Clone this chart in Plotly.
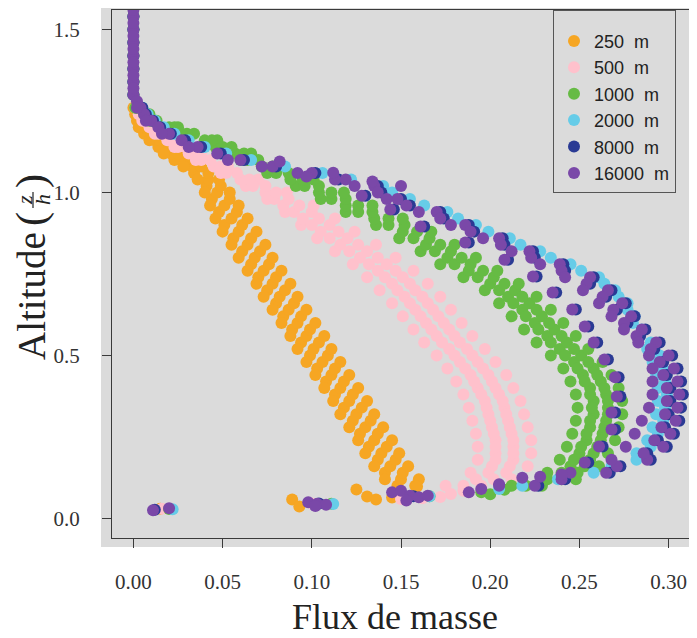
import plotly.graph_objects as go

# ---------------- data ----------------
# altitude levels (z/h) of the profile points
z_lev = [0.10, 0.14, 0.18, 0.22, 0.26, 0.30, 0.34, 0.38, 0.42, 0.46, 0.50, 0.54, 0.58,
         0.62, 0.66, 0.70, 0.74, 0.78, 0.82, 0.86, 0.90, 0.94, 0.98, 1.02, 1.06, 1.10,
         1.14, 1.18, 1.22, 1.26, 1.30, 1.34, 1.38, 1.42, 1.46, 1.50, 1.54, 1.58]
z_mid = [0.12, 0.16, 0.20, 0.24, 0.28, 0.32, 0.36, 0.40, 0.44, 0.48, 0.52, 0.56, 0.60,
         0.64, 0.68, 0.72, 0.76, 0.80, 0.84, 0.88, 0.92, 0.96, 1.00, 1.04, 1.08, 1.12,
         1.16, 1.20, 1.24, 1.28, 1.32, 1.36, 1.40, 1.44, 1.48, 1.52, 1.56, 1.60]

labels = ["250  m", "500  m", "1000  m", "2000  m", "8000  m", "16000  m"]
colors = ["#F6A623", "#FFC1CC", "#66BB44", "#66CCE8", "#2A3A94", "#7A48A8"]

# 250 m
x250_a = [0.148, 0.141, 0.137, 0.132, 0.127, 0.123, 0.118, 0.113, 0.108, 0.103, 0.099, 0.094, 0.089,
          0.084, 0.080, 0.075, 0.070, 0.066, 0.061, 0.056, 0.051, 0.048, 0.044, 0.041, 0.034, 0.023,
          0.014, 0.006, 0.002, 0.000, 0.000, 0.000, 0.000, 0.000, 0.000, 0.000, 0.000, 0.000]
x250_c = [0.158, 0.151, 0.147, 0.142, 0.137, 0.133, 0.128, 0.123, 0.118, 0.113, 0.109, 0.104, 0.099,
          0.094, 0.090, 0.085, 0.080, 0.076, 0.071, 0.066, 0.061, 0.058, 0.054, 0.049, 0.042, 0.029,
          0.020, 0.010, 0.004, 0.002]
x250_b = [0.150, 0.144, 0.139, 0.135, 0.130, 0.125, 0.121, 0.116, 0.111, 0.106, 0.101, 0.097, 0.092,
          0.087, 0.082, 0.078, 0.073, 0.068, 0.064, 0.059, 0.055, 0.051, 0.047, 0.042, 0.033, 0.021,
          0.012, 0.005, 0.002]
x250_d = [0.141, 0.135, 0.130, 0.126, 0.121, 0.116, 0.112, 0.107, 0.102, 0.097, 0.092, 0.088, 0.083,
          0.078, 0.073, 0.069, 0.064, 0.059, 0.055, 0.050, 0.046, 0.043, 0.040, 0.036, 0.028, 0.017,
          0.009, 0.003, 0.001]
x250_e = [0.160, 0.154, 0.149, 0.145, 0.140, 0.135, 0.131, 0.126, 0.121, 0.116, 0.111, 0.107, 0.102,
          0.097, 0.092, 0.088, 0.083, 0.078, 0.074, 0.069, 0.064, 0.059, 0.054, 0.048, 0.038, 0.025,
          0.015, 0.007, 0.003]
x250_low = [0.015, 0.089, 0.093, 0.125, 0.131, 0.136, 0.145, 0.159]
z250_low = [0.030, 0.058, 0.037, 0.089, 0.067, 0.058, 0.064, 0.098]

# 500 m
x500_a = [0.175, 0.189, 0.193, 0.193, 0.192, 0.190, 0.188, 0.185, 0.181, 0.176, 0.170, 0.163, 0.157,
          0.151, 0.145, 0.138, 0.131, 0.123, 0.113, 0.103, 0.094, 0.085, 0.075, 0.063, 0.049, 0.035,
          0.023, 0.012, 0.005, 0.001, 0.000, 0.000, 0.000, 0.000, 0.000, 0.000, 0.000, 0.000]
x500_b = [0.192, 0.201, 0.203, 0.203, 0.201, 0.199, 0.197, 0.193, 0.189, 0.183, 0.177, 0.170, 0.164,
          0.158, 0.152, 0.145, 0.137, 0.127, 0.116, 0.105, 0.095, 0.084, 0.074, 0.060, 0.045, 0.031,
          0.019, 0.009, 0.003]
x500_c = [0.195, 0.209, 0.213, 0.213, 0.212, 0.210, 0.208, 0.205, 0.201, 0.196, 0.190, 0.183, 0.177,
          0.171, 0.165, 0.158, 0.151, 0.142, 0.131, 0.120, 0.110, 0.100, 0.087, 0.074, 0.058, 0.043,
          0.029, 0.017, 0.008, 0.003]
x500_d = [0.212, 0.221, 0.223, 0.223, 0.221, 0.219, 0.217, 0.213, 0.209, 0.203, 0.197, 0.190, 0.184,
          0.178, 0.172, 0.165, 0.157, 0.147, 0.136, 0.124, 0.113, 0.101, 0.086, 0.070, 0.053, 0.038,
          0.025, 0.014, 0.006]
x500_e = [0.185, 0.199, 0.203, 0.203, 0.202, 0.200, 0.198, 0.195, 0.191, 0.186, 0.180, 0.173, 0.167,
          0.161, 0.155, 0.148, 0.141, 0.132, 0.121, 0.110, 0.100, 0.090, 0.079, 0.067, 0.052, 0.038,
          0.025, 0.014, 0.006, 0.002]
x500_f = [0.202, 0.211, 0.213, 0.213, 0.211, 0.209, 0.207, 0.203, 0.199, 0.193, 0.187, 0.180, 0.174,
          0.168, 0.162, 0.155, 0.147, 0.137, 0.126, 0.115, 0.104, 0.093, 0.080, 0.065, 0.049, 0.034,
          0.022, 0.012, 0.005]
x500_low = [0.016, 0.100, 0.150, 0.162, 0.172, 0.178, 0.185]
z500_low = [0.030, 0.046, 0.060, 0.062, 0.066, 0.075, 0.085]

# 1000 m
x1000_a = [0.212, 0.232, 0.239, 0.243, 0.246, 0.248, 0.249, 0.248, 0.245, 0.241, 0.234, 0.226, 0.219,
           0.212, 0.205, 0.197, 0.185, 0.172, 0.161, 0.149, 0.136, 0.119, 0.105, 0.091, 0.075, 0.060,
           0.046, 0.027, 0.009, 0.001, 0.000, 0.000, 0.000, 0.000, 0.000, 0.000, 0.000, 0.000]
x1000_b = [0.232, 0.245, 0.250, 0.254, 0.256, 0.258, 0.258, 0.256, 0.252, 0.247, 0.239, 0.232, 0.225,
           0.218, 0.210, 0.200, 0.188, 0.176, 0.164, 0.151, 0.135, 0.119, 0.104, 0.088, 0.072, 0.057,
           0.040, 0.020, 0.006]
x1000_c = [0.229, 0.249, 0.256, 0.260, 0.263, 0.265, 0.266, 0.265, 0.262, 0.258, 0.251, 0.243, 0.236,
           0.229, 0.222, 0.214, 0.202, 0.189, 0.178, 0.166, 0.152, 0.134, 0.119, 0.104, 0.087, 0.070,
           0.055, 0.034, 0.013, 0.004]
x1000_d = [0.248, 0.261, 0.266, 0.270, 0.272, 0.274, 0.274, 0.272, 0.268, 0.263, 0.255, 0.248, 0.241,
           0.234, 0.226, 0.216, 0.204, 0.192, 0.180, 0.167, 0.151, 0.134, 0.118, 0.101, 0.083, 0.066,
           0.047, 0.025, 0.009]
x1000_e = [0.220, 0.240, 0.247, 0.251, 0.254, 0.256, 0.257, 0.256, 0.253, 0.249, 0.242, 0.234, 0.227,
           0.220, 0.213, 0.205, 0.193, 0.180, 0.169, 0.157, 0.143, 0.126, 0.111, 0.096, 0.080, 0.064,
           0.050, 0.030, 0.011, 0.002]
x1000_f = [0.240, 0.253, 0.258, 0.262, 0.264, 0.266, 0.266, 0.264, 0.260, 0.255, 0.247, 0.240, 0.233,
           0.226, 0.218, 0.208, 0.196, 0.184, 0.172, 0.159, 0.143, 0.126, 0.111, 0.095, 0.078, 0.062,
           0.044, 0.023, 0.008]
x1000_low = [0.020, 0.111, 0.166, 0.195, 0.200, 0.208]
z1000_low = [0.029, 0.045, 0.068, 0.080, 0.074, 0.088]

# 2000 m
x2000_a = [0.218, 0.258, 0.282, 0.290, 0.294, 0.297, 0.298, 0.299, 0.298, 0.297, 0.295, 0.290, 0.285,
           0.281, 0.277, 0.270, 0.261, 0.245, 0.228, 0.211, 0.192, 0.176, 0.155, 0.140, 0.106, 0.066,
           0.040, 0.023, 0.012, 0.005, 0.000, 0.000, 0.000, 0.000, 0.000, 0.000, 0.000, 0.000]
x2000_b = [0.238, 0.268, 0.282, 0.288, 0.291, 0.293, 0.294, 0.294, 0.293, 0.291, 0.288, 0.284, 0.280,
           0.277, 0.272, 0.264, 0.251, 0.234, 0.217, 0.199, 0.182, 0.163, 0.145, 0.122, 0.085, 0.052,
           0.031, 0.017, 0.008]
x2000_low = [0.022, 0.112, 0.166, 0.205]
z2000_low = [0.028, 0.044, 0.068, 0.090]

# 8000 m
x8000_a = [0.227, 0.267, 0.290, 0.299, 0.303, 0.306, 0.307, 0.308, 0.307, 0.305, 0.302, 0.295, 0.287,
           0.281, 0.276, 0.268, 0.258, 0.241, 0.224, 0.207, 0.188, 0.172, 0.150, 0.137, 0.102, 0.062,
           0.038, 0.021, 0.011, 0.005, 0.000, 0.000, 0.000, 0.000, 0.000, 0.000, 0.000, 0.000]
x8000_b = [0.242, 0.273, 0.288, 0.294, 0.298, 0.300, 0.301, 0.301, 0.299, 0.297, 0.292, 0.284, 0.277,
           0.271, 0.265, 0.256, 0.242, 0.225, 0.208, 0.191, 0.174, 0.155, 0.139, 0.115, 0.080, 0.049,
           0.029, 0.015, 0.007]
x8000_in = [0.130, 0.146, 0.163, 0.188, 0.210, 0.226, 0.237, 0.248, 0.255, 0.260, 0.266, 0.272,
            0.273, 0.270, 0.270, 0.263, 0.255]
z8000_in = [0.990, 0.948, 0.896, 0.847, 0.794, 0.742, 0.693, 0.641, 0.589, 0.540, 0.488, 0.433,
            0.374, 0.325, 0.273, 0.221, 0.172]
x8000_low = [0.012, 0.104, 0.157]
z8000_low = [0.027, 0.046, 0.068]

# 16000 m
x16000_a = [0.225, 0.265, 0.288, 0.297, 0.301, 0.304, 0.305, 0.306, 0.305, 0.303, 0.300, 0.293, 0.285,
            0.279, 0.274, 0.266, 0.256, 0.239, 0.222, 0.205, 0.186, 0.170, 0.148, 0.135, 0.100, 0.060,
            0.036, 0.020, 0.010, 0.004, 0.000, 0.000, 0.000, 0.000, 0.000, 0.000, 0.000, 0.000]
x16000_b = [0.240, 0.271, 0.286, 0.292, 0.296, 0.298, 0.299, 0.299, 0.297, 0.295, 0.290, 0.282, 0.275,
            0.269, 0.263, 0.254, 0.240, 0.223, 0.206, 0.189, 0.172, 0.153, 0.137, 0.113, 0.078, 0.047,
            0.027, 0.014, 0.006, 0.002, 0.000, 0.000, 0.000, 0.000, 0.000, 0.000, 0.000, 0.000]
x16000_c = [0.205, 0.245, 0.268, 0.276, 0.281, 0.285, 0.289, 0.291, 0.291, 0.291, 0.289, 0.283, 0.275,
            0.268, 0.261, 0.252, 0.242, 0.228, 0.212, 0.196, 0.178, 0.160, 0.142, 0.124, 0.092, 0.053,
            0.031, 0.016, 0.007, 0.002]
x16000_in = [0.128, 0.144, 0.161, 0.186, 0.208, 0.224, 0.235, 0.246, 0.253, 0.258, 0.264, 0.270,
             0.271, 0.268, 0.268, 0.261, 0.253]
z16000_in = [0.990, 0.948, 0.896, 0.847, 0.794, 0.742, 0.693, 0.641, 0.589, 0.540, 0.488, 0.433,
             0.374, 0.325, 0.273, 0.221, 0.172]
x16000_top = [0.072, 0.082, 0.097, 0.112, 0.119, 0.134, 0.150]
z16000_top = [1.080, 1.095, 1.049, 1.061, 1.040, 1.034, 1.020]
x16000_low = [0.011, 0.020, 0.098, 0.103, 0.108, 0.102, 0.145, 0.150, 0.155, 0.160, 0.165, 0.153,
              0.188, 0.195, 0.205, 0.218, 0.228, 0.240]
z16000_low = [0.025, 0.031, 0.050, 0.045, 0.042, 0.038, 0.080, 0.085, 0.070, 0.065, 0.070, 0.055,
              0.080, 0.090, 0.105, 0.125, 0.128, 0.135]

x_ticks = [0.00, 0.05, 0.10, 0.15, 0.20, 0.25, 0.30]
x_ticktext = ["0.00", "0.05", "0.10", "0.15", "0.20", "0.25", "0.30"]
y_ticks = [0.0, 0.5, 1.0, 1.5]
y_ticktext = ["0.0", "0.5", "1.0", "1.5"]


def on(levels, xs):
    return levels[:len(xs)]


series = [
    (x250_a + x250_b + x250_c + x250_d + x250_e + x250_low,
     on(z_lev, x250_a) + on(z_mid, x250_b) + on(z_lev, x250_c) + on(z_mid, x250_d)
     + on(z_mid, x250_e) + z250_low),
    (x500_a + x500_b + x500_c + x500_d + x500_e + x500_f + x500_low,
     on(z_lev, x500_a) + on(z_mid, x500_b) + on(z_lev, x500_c) + on(z_mid, x500_d)
     + on(z_lev, x500_e) + on(z_mid, x500_f) + z500_low),
    (x1000_a + x1000_b + x1000_c + x1000_d + x1000_e + x1000_f + x1000_low,
     on(z_lev, x1000_a) + on(z_mid, x1000_b) + on(z_lev, x1000_c) + on(z_mid, x1000_d)
     + on(z_lev, x1000_e) + on(z_mid, x1000_f) + z1000_low),
    (x2000_a + x2000_b + x2000_low,
     on(z_lev, x2000_a) + on(z_mid, x2000_b) + z2000_low),
    (x8000_a + x8000_b + x8000_in + x8000_low,
     on(z_lev, x8000_a) + on(z_mid, x8000_b) + z8000_in + z8000_low),
    (x16000_a + x16000_b + x16000_c + x16000_in + x16000_top + x16000_low,
     on(z_lev, x16000_a) + on(z_mid, x16000_b) + on(z_lev, x16000_c) + z16000_in + z16000_top
     + z16000_low),
]

# ---------------- figure ----------------
# the page puts the plot <div> 8 px in from the window corner (body margin)
OFF = 8
W, H = 697 - OFF, 638 - OFF
L_, R_, T_, B_ = 112, 690, 10, 538          # plot box in window pixels
GRAY = "#DBDBDB"
SERIF = "Liberation Serif, Times New Roman, serif"
INK = "#222222"


def px(xp):
    return (xp - L_) / (R_ - L_)


def py(yp):
    return (B_ - yp) / (B_ - T_)


fig = go.Figure()
for (xs, zs), name, col in zip(series, labels, colors):
    fig.add_trace(go.Scatter(x=xs, y=zs, mode="markers", name=name,
                             marker=dict(color=col, size=12, line=dict(width=0))))

axis_common = dict(showgrid=False, zeroline=False, showline=True, mirror=True,
                   linecolor="#3a3a3a", linewidth=1, ticks="outside", ticklen=9,
                   tickwidth=1, tickcolor="#3a3a3a", automargin=False,
                   tickfont=dict(family=SERIF, size=21, color="#333333"))


def ann(text, xp, yp, size, angle=0):
    return dict(text=text, x=px(xp), y=py(yp), xref="paper", yref="paper",
                showarrow=False, textangle=angle, xanchor="center", yanchor="middle",
                font=dict(family=SERIF, size=size, color=INK))


fig.update_layout(
    width=W, height=H,
    margin=dict(l=L_ - OFF, r=W - (R_ - OFF), t=T_ - OFF, b=H - (B_ - OFF), autoexpand=False),
    paper_bgcolor="white", plot_bgcolor=GRAY,
    showlegend=True,
    legend=dict(x=px(553), y=1.0, xanchor="left", yanchor="top",
                bgcolor=GRAY, bordercolor="#555555", borderwidth=1,
                entrywidth=130, entrywidthmode="pixels",
                title=dict(text="\u00a0", font=dict(size=9)),
                font=dict(family="Liberation Sans, Arial, sans-serif", size=18, color=INK),
                itemsizing="constant"),
    xaxis=dict(range=[-0.012, 0.312], tickvals=x_ticks, ticktext=x_ticktext,
               ticklabelstandoff=16, **axis_common),
    yaxis=dict(range=[-0.06, 1.56], tickvals=y_ticks, ticktext=y_ticktext,
               ticklabelstandoff=18, **axis_common),
    shapes=[
        dict(type="rect", xref="paper", yref="paper", x0=px(101), x1=px(690), y0=py(547), y1=py(8),
             fillcolor=GRAY, line=dict(width=0), layer="below"),
        dict(type="line", xref="paper", yref="paper", x0=px(33), x1=px(33), y0=py(192), y1=py(208),
             line=dict(color=INK, width=1.2)),
    ],
    annotations=[
        ann("Flux de masse", 395, 617, 36),
        ann("Altitude", 31, 296, 39, -90),
        ann("(", 31, 219, 42, -90),
        ann("<i>z</i>", 24, 200, 22, -90),
        ann("<i>h</i>", 42, 200, 22, -90),
        ann(")", 31, 181, 42, -90),
    ],
)

fig.write_html("out.html")
